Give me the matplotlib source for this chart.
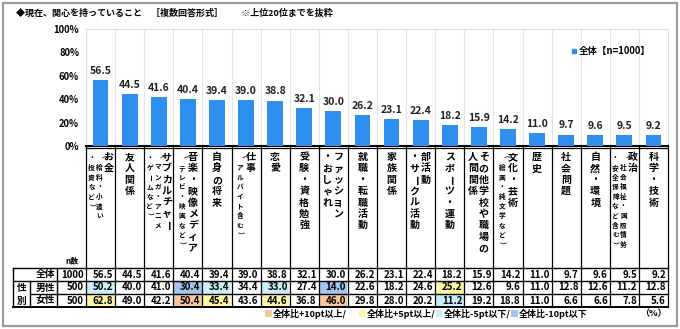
import matplotlib
matplotlib.use("Agg")
import matplotlib.pyplot as plt
from matplotlib.patches import Rectangle

plt.rcParams['font.family'] = ['Noto Sans CJK JP', 'DejaVu Sans']
plt.rcParams['font.weight'] = 'bold'

# ---------------- data ----------------
categories = [
    ["お金", "（給料・小遣い", "・投資など）"],
    ["友人関係"],
    ["サブカルチャー", "（マンガ・アニメ", "・ゲームなど）"],
    ["音楽・映像メディア", "（テレビ・映画など）"],
    ["自身の将来"],
    ["仕事", "（アルバイト含む）"],
    ["恋愛"],
    ["受験・資格勉強"],
    ["ファッション", "・おしゃれ"],
    ["就職・転職活動"],
    ["家族関係"],
    ["部活動", "・サークル活動"],
    ["スポーツ・運動"],
    ["その他学校や職場の", "人間関係"],
    ["文化・芸術", "（絵画・純文学など）"],
    ["歴史"],
    ["社会問題"],
    ["自然・環境"],
    ["政治", "（社会福祉・国際情勢", "・安全保障など含む）"],
    ["科学・技術"],
]
total = [56.5, 44.5, 41.6, 40.4, 39.4, 39.0, 38.8, 32.1, 30.0, 26.2,
         23.1, 22.4, 18.2, 15.9, 14.2, 11.0, 9.7, 9.6, 9.5, 9.2]
male = [50.2, 40.0, 41.0, 30.4, 33.4, 34.4, 33.0, 27.4, 14.0, 22.6,
        18.2, 24.6, 25.2, 12.6, 9.6, 11.0, 12.8, 12.6, 11.2, 12.8]
female = [62.8, 49.0, 42.2, 50.4, 45.4, 43.6, 44.6, 36.8, 46.0, 29.8,
          28.0, 20.2, 11.2, 19.2, 18.8, 11.0, 6.6, 6.6, 7.8, 5.6]
row_labels = ["全体", "男性", "女性"]
n_values = [1000, 500, 500]
group_label = "性別"
series_label = "全体【n=1000】"
yticks = [0, 20, 40, 60, 80, 100]
title = "◆現在、関心を持っていること　［複数回答形式］　　※上位20位までを抜粋"
legend_items = ["全体比+10pt以上/", "全体比+5pt以上/", "全体比-5pt以下/", "全体比-10pt以下"]

# ---------------- style ----------------
W, H = 680, 329
BAR = '#2E8FEF'
C_P10, C_P5, C_M5, C_M10 = '#F8C7A0', '#FFF6A3', '#CBEEFB', '#A2C6F0'
X0, X1 = 86, 668
Y_TOP, Y_ZERO = 29, 146
N = len(total)
colw = (X1 - X0) / N
rows_y = [268, 281, 294, 307]
TFS = 7

fig = plt.figure(figsize=(W / 100, H / 100), dpi=100)
ax = fig.add_axes([X0 / W, (H - Y_ZERO) / H, (X1 - X0) / W, (Y_ZERO - Y_TOP) / H])
ov = fig.add_axes([0, 0, 1, 1], zorder=5)
ov.set_xlim(0, W)
ov.set_ylim(H, 0)
ov.axis('off')
ov.patch.set_alpha(0)

# main bars
xs = list(range(N))
ax.bar(xs, total, width=0.54, color=BAR, zorder=3)
for x, v in zip(xs, total):
    ax.annotate(f"{v:.1f}", (x, v), xytext=(0, 3), textcoords='offset points',
                ha='center', va='bottom', fontsize=7.5, fontweight='bold', color='#222')
ax.set_xlim(-0.5, N - 0.5)
ax.set_ylim(0, 100)
ax.set_yticks(yticks)
ax.set_yticklabels([f"{t}%" for t in yticks], fontsize=6.8, fontweight='bold')
ax.tick_params(axis='y', length=0, pad=5)
ax.set_xticks([])
for k in range(N + 1):
    ax.axvline(k - 0.5, color='#e4e4e4', lw=0.8, zorder=1)
for s in ['top', 'right', 'left']:
    ax.spines[s].set_color('#dddddd')
    ax.spines[s].set_linewidth(0.8)
ax.spines['bottom'].set_color('black')
ax.spines['bottom'].set_linewidth(1.5)

# series legend
ax.scatter([], [], marker='s', color=BAR, s=6, label=series_label)
ax.legend(loc='upper right', bbox_to_anchor=(0.985, 0.93), frameon=False,
          handletextpad=0.1, handlelength=0.8, markerscale=1.0,
          prop={'weight': 'bold', 'size': 6.8})

# title
ov.text(16, 13, title, fontsize=6.5, fontweight='bold', va='center', ha='left')

# figure frame
ov.add_patch(Rectangle((3, 3), W - 6, H - 6, fill=False, ec='#9a9a9a', lw=1.6))

# category vertical labels
ROT = {"ー": -90, "（": -90, "）": -90, "～": -90}

def col_center(i):
    return X0 + colw * (i + 0.5)

for i, lines in enumerate(categories):
    n = len(lines)
    offs = {1: [0], 2: [5, -6], 3: [8, -1, -9]}[n]
    for li, (line, off) in enumerate(zip(lines, offs)):
        small = ("（" in line) or ("）" in line)
        fs = 4.8 if small else 7.2
        step = 9.6 if small else 11.4
        y = 157 if not small else 158
        for ch in line:
            ov.text(col_center(i) + off, y, ch, fontsize=fs, fontweight='bold',
                    ha='center', va='center', rotation=ROT.get(ch, 0),
                    rotation_mode='anchor')
            y += step

# grid lines in category/table area
for k in range(N + 1):
    x = X0 + colw * k
    ov.plot([x, x], [Y_ZERO, rows_y[-1]], color='black', lw=0.9)
ov.plot([X0, X1], [Y_ZERO + 1.5, Y_ZERO + 1.5], color='black', lw=0.9)
ov.text(72, 261, "n数", fontsize=5.8, fontweight='bold', ha='center', va='center')

# table lines
ov.plot([13, X1], [rows_y[0], rows_y[0]], color='black', lw=1.0)
ov.plot([13, X1], [rows_y[1], rows_y[1]], color='black', lw=1.0)
ov.plot([30, X1], [rows_y[2], rows_y[2]], color='black', lw=1.0)
ov.plot([13, X1], [rows_y[3], rows_y[3]], color='black', lw=1.4)
ov.plot([13, 13], [rows_y[0], rows_y[3]], color='black', lw=1.0)
ov.plot([57, 57], [rows_y[0], rows_y[3]], color='black', lw=1.0)
ov.plot([30, 30], [rows_y[1], rows_y[3]], color='black', lw=1.0)

def cell_color(v, base):
    d = v - base
    if d >= 10:
        return C_P10
    if d >= 5:
        return C_P5
    if d <= -10:
        return C_M10
    if d <= -5:
        return C_M5
    return None

table = [total, male, female]
for r, vals in enumerate(table):
    y_top, y_bot = rows_y[r], rows_y[r + 1]
    yc = (y_top + y_bot) / 2
    ov.text(55, yc, row_labels[r], fontsize=TFS, fontweight='bold', ha='right', va='center')
    ov.text(X0 - 2, yc, str(n_values[r]), fontsize=TFS, fontweight='bold', ha='right', va='center')
    for i, v in enumerate(vals):
        xl = X0 + colw * i
        if r > 0:
            c = cell_color(v, total[i])
            if c:
                ov.add_patch(Rectangle((xl + 0.5, y_top + 0.5), colw - 1, (y_bot - y_top) - 1,
                                       fc=c, ec='none', zorder=0))
        ov.text(xl + colw - 2, yc, f"{v:.1f}", fontsize=TFS, fontweight='bold',
                ha='right', va='center')
ov.text(21.5, (rows_y[1] + rows_y[2]) / 2, group_label[0], fontsize=TFS, fontweight='bold', ha='center', va='center')
ov.text(21.5, (rows_y[2] + rows_y[3]) / 2, group_label[1], fontsize=TFS, fontweight='bold', ha='center', va='center')

# bottom legend
leg_x = [265, 359, 436, 511]
for x, col, lab in zip(leg_x, [C_P10, C_P5, C_M5, C_M10], legend_items):
    ov.add_patch(Rectangle((x, 310), 7, 7, fc=col, ec='none'))
    ov.text(x + 8, 314, lab, fontsize=6.5, fontweight='bold', ha='left', va='center')
ov.text(667, 314, "（%）", fontsize=6.5, fontweight='bold', ha='right', va='center')

fig.savefig("out.png", dpi=100)
